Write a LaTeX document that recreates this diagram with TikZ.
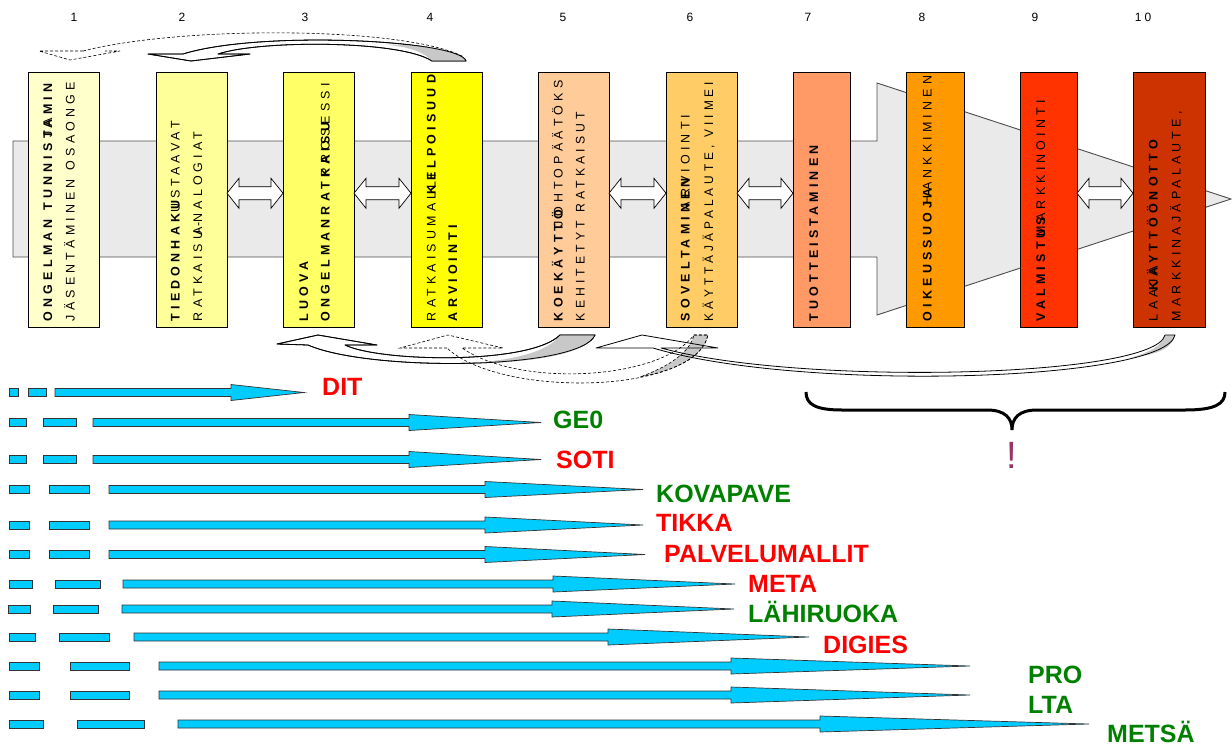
\documentclass[tikz,border=0pt]{standalone}
\usepackage{fontspec}
\usepackage{graphicx}
\setmainfont{Liberation Sans}
\newfontfamily\spacedfont[LetterSpace=33]{Liberation Sans}
\usetikzlibrary{calc}
\definecolor{c1}{HTML}{FFFFCC}
\definecolor{c2}{HTML}{FFFF99}
\definecolor{c3}{HTML}{FFFF66}
\definecolor{c4}{HTML}{FFFF00}
\definecolor{c5}{HTML}{FFCC99}
\definecolor{c6}{HTML}{FFCC66}
\definecolor{c7}{HTML}{FF9966}
\definecolor{c8}{HTML}{FF9900}
\definecolor{c9}{HTML}{FF3300}
\definecolor{c10}{HTML}{CC3300}
\definecolor{biggray}{HTML}{EAEAEA}
\definecolor{tailgray}{HTML}{C8C8C8}
\definecolor{skyblue}{HTML}{00CCFF}
\definecolor{lblred}{HTML}{FF0000}
\definecolor{lblgreen}{HTML}{008000}
\definecolor{exclcol}{HTML}{993366}
\newcommand{\st}[2][1]{\scalebox{#1}[1]{#2}}
\newcommand{\wsp}{\hspace{9pt}}
\tikzset{
  stepbox/.style={draw=black, line width=0.9pt, inner sep=0pt, outer sep=0pt, minimum height=255pt},
  vreg/.style={rotate=90, anchor=base west, inner sep=0pt, outer sep=0pt, font=\spacedfont\fontsize{12.5}{14}\selectfont},
  vbold/.style={vreg, font=\spacedfont\bfseries\fontsize{12.5}{14}\selectfont},
  numlbl/.style={inner sep=0pt, font=\fontsize{12}{14}\selectfont},
  dblarrow/.style={draw=black, line width=0.7pt, fill=white, line join=miter},
  carrow/.style={draw=black, line width=0.8pt, line join=round},
  darrow/.style={draw=black, line width=0.6pt, dashed, dash pattern=on 3pt off 2pt},
  bluebar/.style={draw=black!80, line width=0.7pt, fill=skyblue},
  lbl/.style={anchor=base west, inner sep=0pt, font=\bfseries\fontsize{25}{28}\selectfont},
}
\newcommand{\dbl}[2]{%
  \draw[dblarrow] let \p1=(#1.east), \p2=(#2.west) in
    (\x1,\y1+6.3pt) -- (\x1+12pt,\y1+21.2pt) -- (\x1+12pt,\y1+12.7pt) -- (\x2-12pt,\y1+12.7pt)
    -- (\x2-12pt,\y1+21.2pt) -- (\x2,\y1+6.3pt) -- (\x2-12pt,\y1-8.8pt) -- (\x2-12pt,\y1-0.3pt)
    -- (\x1+12pt,\y1-0.3pt) -- (\x1+12pt,\y1-8.8pt) -- cycle;}
% y, sq1a, sq1b, sq2a, sq2b, shaft start, head start, tip
\newcommand{\bluerow}[8]{%
  \draw[bluebar] (#2,#1-4) rectangle (#3,#1+4);
  \draw[bluebar] (#4,#1-4) rectangle (#5,#1+4);
  \draw[bluebar] (#6,#1-4) -- (#7,#1-4) -- (#7,#1-8) -- (#8,#1) -- (#7,#1+8) -- (#7,#1+4) -- (#6,#1+4) -- cycle;}
\begin{document}
\begin{tikzpicture}[x=1pt,y=-1pt]
\useasboundingbox (0,0) rectangle (1232,745);
% big grey arrow
\draw[draw=black!70, line width=0.9pt, fill=biggray] (13,141) -- (877,141) -- (877,83) -- (1231,199) -- (877,315) -- (877,257) -- (13,257) -- cycle;
% step boxes
\node[stepbox, minimum width=71pt, fill=c1] (b1) at (63.5,199.5) {};
\node[stepbox, minimum width=71pt, fill=c2] (b2) at (191.5,199.5) {};
\node[stepbox, minimum width=71pt, fill=c3] (b3) at (318.5,199.5) {};
\node[stepbox, minimum width=71pt, fill=c4] (b4) at (446.5,199.5) {};
\node[stepbox, minimum width=71pt, fill=c5] (b5) at (573.5,199.5) {};
\node[stepbox, minimum width=71pt, fill=c6] (b6) at (701.5,199.5) {};
\node[stepbox, minimum width=57pt, fill=c7] (b7) at (821.5,199.5) {};
\node[stepbox, minimum width=58pt, fill=c8] (b8) at (935,199.5) {};
\node[stepbox, minimum width=57pt, fill=c9] (b9) at (1048.5,199.5) {};
\node[stepbox, minimum width=72pt, fill=c10] (b10) at (1169,199.5) {};
% double arrows
\dbl{b2}{b3}
\dbl{b3}{b4}
\dbl{b5}{b6}
\dbl{b6}{b7}
\dbl{b9}{b10}
% numbers
\node[numlbl] (n1) at (74,17) {1};
\node[numlbl] (n2) at (182,17) {2};
\node[numlbl] (n3) at (305,17) {3};
\node[numlbl] (n4) at (430,17) {4};
\node[numlbl] (n5) at (563,17) {5};
\node[numlbl] (n6) at (690,17) {6};
\node[numlbl] (n7) at (808,17) {7};
\node[numlbl] (n8) at (922,17) {8};
\node[numlbl] (n9) at (1035,17) {9};
\node[numlbl] (n10) at (1143,17) {1\hspace{3pt}0};
% box texts (rotated)
\node[vbold] (t1a) at (52,321) {ONGELMAN\wsp{}TUNNISTAMIN};
\node[vreg] (t1b) at (52,137) {JA};
\node[vreg] (t1c) at (74.5,321) {JÄSENTÄMINEN\wsp{}OSAONGE};
\node[vbold] (t2a) at (179.5,321) {TIEDONHAKU};
\node[vreg] (t2b) at (179.5,212) {USTAAVAT};
\node[vreg] (t2c) at (202,321) {RATKAISU-};
\node[vreg] (t2d) at (202,235) {ANALOGIAT};
\node[vbold] (t3a) at (308,321) {LUOVA};
\node[vbold] (t3b) at (329.5,321) {ONGELMANRATKAISU};
\node[vreg] (t3c) at (329.5,176) {PROSESSI};
\node[vreg] (t4a) at (435.5,321) {RATKAISUMALLI};
\node[vbold] (t4b) at (435.5,194) {KELPOISUUD};
\node[vbold] (t4c) at (457,321) {ARVIOINTI};
\node[vbold] (t5a) at (562.5,321) {KOEKÄYTTÖ};
\node[vreg] (t5b) at (562.5,227) {JOHTOPÄÄTÖKS};
\node[vreg] (t5c) at (584.5,321) {\st[0.98]{KEHITETYT\wsp{}RATKAISUT}};
\node[vbold] (t6a) at (689.5,321) {SOVELTAMINEN};
\node[vreg] (t6b) at (689.5,210) {ARVIOINTI};
\node[vreg] (t6c) at (713,321) {\st[0.95]{KÄYTTÄJÄPALAUTE,\wsp{}VIIMEI}};
\node[vbold] (t7a) at (818,321) {TUOTTEISTAMINEN};
\node[vbold] (t8a) at (931.5,321) {OIKEUSSUOJA};
\node[vreg] (t8b) at (931.5,204) {HANKKIMINEN};
\node[vbold] (t9a) at (1045,321) {VALMISTUS};
\node[vreg] (t9b) at (1045,236) {MARKKINOINTI};
\node[vreg] (t10a) at (1157.5,321) {LAAJA};
\node[vbold] (t10b) at (1157.5,290) {KÄYTTÖÖNOTTO};
\node[vreg] (t10c) at (1180.5,321) {MARKKINAJÄPALAUTE,};
% ---- curved arrows below boxes
% A: solid, from box 5 back to box 3
\draw[carrow, fill=white] (308,345) -- (277,344) -- (318,335) -- (377,345) -- (345,345) .. controls (380,362) and (530,365) .. (560,335) -- (595,335) .. controls (580,370) and (370,372) .. (308,345) -- cycle;
\fill[tailgray] (560,335) -- (595,335) .. controls (585,355) and (530,363) .. (465,363.5) .. controls (520,360) and (550,350) .. (560,335) -- cycle;
\draw[carrow] (308,345) -- (277,344) -- (318,335) -- (377,345) -- (345,345) .. controls (380,362) and (530,365) .. (560,335) -- (595,335) .. controls (580,370) and (370,372) .. (308,345) -- cycle;
% C: solid, from box 10 back to box 6
\fill[white] (653,348) -- (596,348) -- (642,335) -- (718,348) -- (661,348) .. controls (800,386) and (1155,378) .. (1165,335) -- (1175,335) .. controls (1165,382) and (800,392) .. (653,348) -- cycle;
\fill[tailgray] (1165,335) -- (1175,335) .. controls (1172,348) and (1160,354) .. (1130,358) .. controls (1150,352) and (1162,346) .. (1165,335) -- cycle;
% B: dashed, from box 6 back to box 4
\filldraw[tailgray, draw=black, darrow] (694,335) -- (708,335) .. controls (703,356) and (680,369) .. (640,377) .. controls (670,366) and (690,352) .. (694,335) -- cycle;
\draw[darrow] (447,348) -- (400,348) -- (448,335) -- (503,348) -- (462,348) .. controls (520,388) and (660,380) .. (694,335) -- (708,335) .. controls (695,395) and (500,398) .. (447,348) -- cycle;
\draw[carrow] (653,348) -- (596,348) -- (642,335) -- (718,348) -- (661,348) .. controls (800,386) and (1155,378) .. (1165,335) -- (1175,335) .. controls (1165,382) and (800,392) .. (653,348) -- cycle;
% ---- curved arrows above boxes
\draw[carrow, fill=white] (183,54) -- (148,54) -- (191,61) -- (250,54) -- (218,54) .. controls (260,40) and (400,40) .. (432,61) -- (466,61) .. controls (460,40) and (260,30) .. (183,54) -- cycle;
\fill[tailgray] (432,61) .. controls (424,52) and (410,47) .. (385,44.5) .. controls (430,45) and (460,50) .. (466,61) -- cycle;
\draw[carrow] (183,54) -- (148,54) -- (191,61) -- (250,54) -- (218,54) .. controls (260,40) and (400,40) .. (432,61) -- (466,61) .. controls (460,40) and (260,30) .. (183,54) -- cycle;
\draw[darrow] (83,51) -- (39,51) -- (70,60) -- (120,51) -- (105,51);
\draw[darrow] (83,51) .. controls (180,26) and (400,26) .. (462,56);
% ---- blue bars
\bluerow{392.5}{9}{18}{28}{46}{55}{231}{304}
\bluerow{422.5}{9}{26}{43}{76}{93}{409}{541}
\bluerow{459.5}{9}{26}{43}{76}{93}{409}{541}
\bluerow{489.5}{9}{29}{49}{89}{109}{485}{643}
\bluerow{525}{9}{29}{49}{89}{109}{485}{643}
\bluerow{554.5}{9}{29}{49}{89}{109}{485}{645}
\bluerow{584}{9}{32}{55}{100}{123}{553}{735}
\bluerow{609}{8}{30}{53}{98}{122}{552}{734}
\bluerow{637}{9}{35}{59}{109}{134}{608}{809}
\bluerow{666}{9}{39}{70}{129}{159}{731}{970}
\bluerow{695}{9}{39}{70}{129}{159}{731}{970}
\bluerow{724}{9}{43}{77}{144}{178}{820}{1089}
% labels
\node[lbl, text=lblred] (dit) at (322,395) {DIT};
\node[lbl, text=lblgreen] (ge0) at (553,428) {GE0};
\node[lbl, text=lblred] (soti) at (556,468) {SOTI};
\node[lbl, text=lblgreen] (kovapave) at (656,502) {KOVAPAVE};
\node[lbl, text=lblred] (tikka) at (656,531) {TIKKA};
\node[lbl, text=lblred] (palvelu) at (664,562) {PALVELUMALLIT};
\node[lbl, text=lblred] (meta) at (748,592) {META};
\node[lbl, text=lblgreen] (lahi) at (748,622) {LÄHIRUOKA};
\node[lbl, text=lblred] (digies) at (823,653) {DIGIES};
\node[lbl, text=lblgreen] (pro) at (1028,683) {PRO};
\node[lbl, text=lblgreen] (lta) at (1028,713) {LTA};
\node[lbl, text=lblgreen] (metsa) at (1107,742) {METSÄ};
% brace and exclamation
\draw[line width=3pt] (806,392) .. controls (806,404) and (815,410) .. (842,410) -- (987,410) .. controls (1005,410) and (1012,418) .. (1012,430) .. controls (1012,418) and (1019,410) .. (1037,410) -- (1185,410) .. controls (1215,410) and (1225,404) .. (1225,392);
\node[inner sep=0pt, text=exclcol, font=\fontsize{38}{40}\selectfont] (excl) at (1012,455) {!};
\end{tikzpicture}
\end{document}
